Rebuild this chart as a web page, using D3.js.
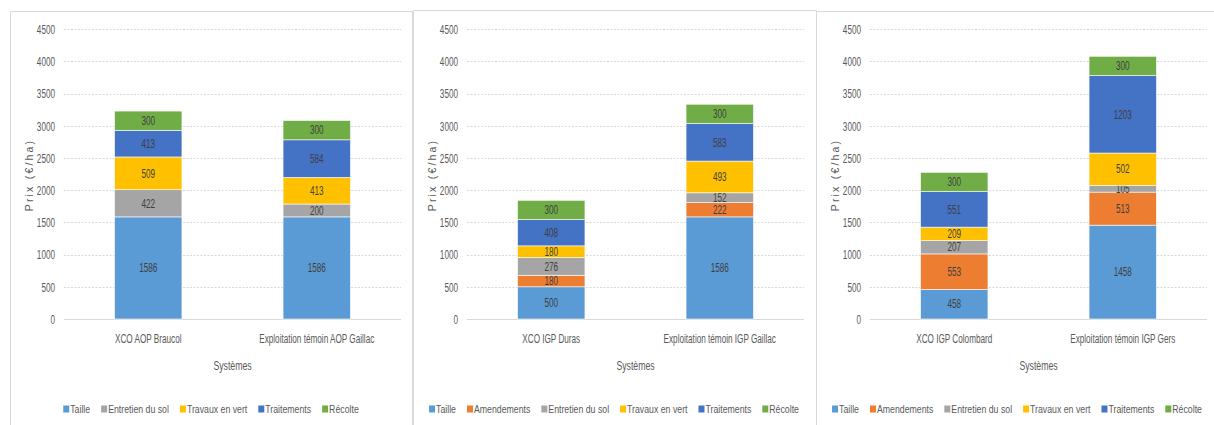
<!DOCTYPE html>
<html>
<head>
<meta charset="utf-8">
<script src="https://cdn.jsdelivr.net/npm/d3@7"></script>
<style>
  body { margin: 0; background: #fff; }
  svg { display: block; }
  text { font-family: "Liberation Sans", Arial, sans-serif; }
  .tick text { fill: #595959; font-size: 12px; font-family: "Liberation Sans", Arial, sans-serif; }
  .lbl { fill: #404040; font-size: 12px; }
  .cat { fill: #595959; font-size: 12px; }
  .xtitle { fill: #595959; font-size: 13px; }
  .ytitle { fill: #595959; font-size: 10.5px; letter-spacing: 2.2px; }
  .leg { fill: #595959; font-size: 11.5px; }
</style>
</head>
<body>
<svg width="1214" height="425"></svg>
<script>
const colors = {
  "Taille": "#5B9BD5",
  "Amendements": "#ED7D31",
  "Entretien du sol": "#A5A5A5",
  "Travaux en vert": "#FFC000",
  "Traitements": "#4472C4",
  "Récolte": "#70AD47"
}

const yTicks = [0, 500, 1000, 1500, 2000, 2500, 3000, 3500, 4000, 4500]

// panel 1
const series1 = ["Taille", "Entretien du sol", "Travaux en vert", "Traitements", "Récolte"]
const cats1 = ["XCO AOP Braucol", "Exploitation témoin AOP Gaillac"]
const vals1 = [[1586, 422, 509, 413, 300], [1586, 200, 413, 584, 300]]

// panel 2
const series2 = ["Taille", "Amendements", "Entretien du sol", "Travaux en vert", "Traitements", "Récolte"]
const cats2 = ["XCO IGP Duras", "Exploitation témoin IGP Gaillac"]
const vals2 = [[500, 180, 276, 180, 408, 300], [1586, 222, 152, 493, 583, 300]]

// panel 3
const series3 = ["Taille", "Amendements", "Entretien du sol", "Travaux en vert", "Traitements", "Récolte"]
const cats3 = ["XCO IGP Colombard", "Exploitation témoin IGP Gers"]
const vals3 = [[458, 553, 207, 209, 551, 300], [1458, 513, 105, 502, 1203, 300]]

const panels = [
  {x: 10, top: 11, w: 402, series: series1, cats: cats1, vals: vals1},
  {x: 413, top: 10, w: 403, series: series2, cats: cats2, vals: vals2},
  {x: 816, top: 11, w: 410, series: series3, cats: cats3, vals: vals3}
]

// the original font is a condensed one, squeeze the glyphs
const squeeze = (sel, k) => {
  sel.each(function() {
    const len = this.getComputedTextLength()
    d3.select(this)
      .attr("textLength", len * k)
      .attr("lengthAdjust", "spacingAndGlyphs")
  })
}

const svg = d3.select("svg")

const y = d3.scaleLinear()
  .domain([0, 4500])
  .range([319, 29.3])

panels.forEach(p => {
  const g = svg.append("g")

  // frame
  g.append("path")
    .attr("d", `M${p.x + 0.5},430 V${p.top + 0.5} H${p.x + p.w + 0.5} V430`)
    .attr("fill", "none")
    .attr("stroke", "#D9D9D9")
    .attr("stroke-width", 1)

  const x0 = p.x + 54, x1 = p.x + 391

  const x = d3.scaleBand()
    .domain(p.cats)
    .range([x0, x1])
    .paddingInner(0.6)
    .paddingOuter(0.3)

  // grid
  g.selectAll("line.grid")
    .data(yTicks.slice(1))
    .enter().append("line")
    .attr("class", "grid")
    .attr("x1", x0).attr("x2", x1)
    .attr("y1", d => Math.round(y(d)) + 0.5)
    .attr("y2", d => Math.round(y(d)) + 0.5)
    .attr("stroke", "#D9D9D9")
    .attr("stroke-dasharray", "2,1.5")

  g.append("line")
    .attr("x1", x0).attr("x2", x1)
    .attr("y1", Math.round(y(0)) + 0.5)
    .attr("y2", Math.round(y(0)) + 0.5)
    .attr("stroke", "#D9D9D9")
    .attr("stroke-width", 1.2)

  // y axis labels
  const yAxis = g.append("g")
    .attr("transform", `translate(${x0 - 9},0)`)
    .call(d3.axisLeft(y).tickValues(yTicks).tickFormat(d3.format("d")).tickSize(0).tickPadding(0))
  yAxis.select(".domain").remove()
  yAxis.selectAll("text").attr("dy", "0.35em").call(squeeze, 0.68)

  // stacks
  const rows = p.cats.map((c, i) => {
    const r = {cat: c}
    p.series.forEach((s, j) => { r[s] = p.vals[i][j] })
    return r
  })
  const stacked = d3.stack().keys(p.series)(rows)

  stacked.forEach(layer => {
    const key = layer.key
    const lg = g.append("g")
    lg.selectAll("rect")
      .data(layer)
      .enter().append("rect")
      .attr("x", d => x(d.data.cat))
      .attr("width", x.bandwidth())
      .attr("y", d => y(d[1]))
      .attr("height", d => y(d[0]) - y(d[1]))
      .attr("fill", colors[key])
      .attr("stroke", "#fff")
      .attr("stroke-width", 0.6)

    lg.selectAll("text")
      .data(layer)
      .enter().append("text")
      .attr("class", "lbl")
      .attr("x", d => x(d.data.cat) + x.bandwidth() / 2)
      .attr("y", d => (y(d[0]) + y(d[1])) / 2)
      .attr("dy", "0.35em")
      .attr("text-anchor", "middle")
      .text(d => d.data[key])
      .call(squeeze, 0.68)
  })

  // category labels
  g.selectAll("text.cat")
    .data(p.cats)
    .enter().append("text")
    .attr("class", "cat")
    .attr("x", d => x(d) + x.bandwidth() / 2)
    .attr("y", 339)
    .attr("dy", "0.35em")
    .attr("text-anchor", "middle")
    .text(d => d)
    .call(squeeze, 0.68)

  g.append("text")
    .attr("class", "xtitle")
    .attr("x", (x0 + x1) / 2)
    .attr("y", 365)
    .attr("dy", "0.35em")
    .attr("text-anchor", "middle")
    .text("Systèmes")
    .call(squeeze, 0.67)

  g.append("text")
    .attr("class", "ytitle")
    .attr("transform", `translate(${p.x + 19},175) rotate(-90)`)
    .attr("dy", "0.35em")
    .attr("text-anchor", "middle")
    .text("Prix (€/ha)")

  // legend
  const leg = g.append("g")
  let cx = 0
  p.series.forEach(s => {
    const it = leg.append("g").attr("transform", `translate(${cx},0)`)
    it.append("rect")
      .attr("x", 0).attr("y", -3.5)
      .attr("width", 6).attr("height", 7)
      .attr("fill", colors[s])
    const t = it.append("text")
      .attr("class", "leg")
      .attr("x", 7)
      .attr("dy", "0.35em")
      .text(s)
    const len = t.node().getComputedTextLength() * 0.76
    t.attr("textLength", len).attr("lengthAdjust", "spacingAndGlyphs")
    cx += 7 + len + 11
  })
  const legW = cx - 11
  leg.attr("transform", `translate(${p.x + 201 - legW / 2},409)`)
})
</script>
</body>
</html>
